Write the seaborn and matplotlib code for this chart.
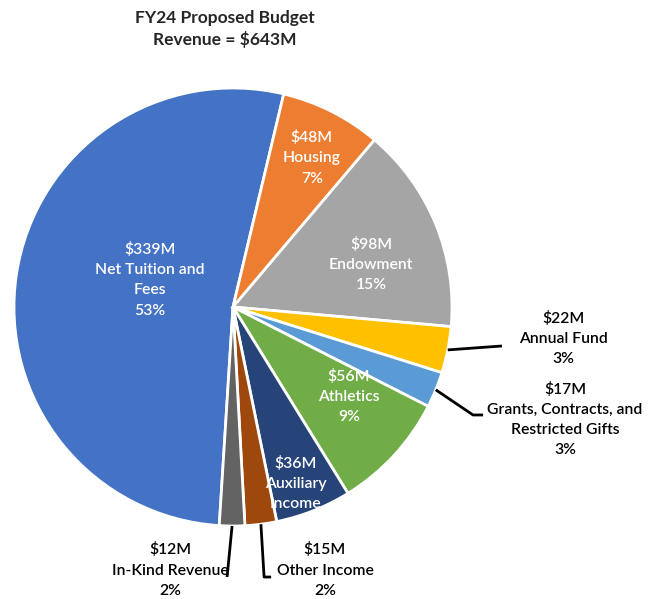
import matplotlib
matplotlib.use("Agg")
import matplotlib.pyplot as plt
import numpy as np
import seaborn as sns

# Revenue categories, in pie order (clockwise from Net Tuition)
categories = ["Net Tuition and\nFees", "Housing", "Endowment", "Annual Fund",
              "Grants, Contracts, and\nRestricted Gifts", "Athletics",
              "Auxiliary\nIncome", "Other Income", "In-Kind Revenue"]
amounts = [339, 48, 98, 22, 17, 56, 36, 15, 12]          # $M
percents = [53, 7, 15, 3, 3, 9, 6, 2, 2]
colors = ["#4472C4", "#ED7D31", "#A5A5A5", "#FFC000", "#5B9BD5",
          "#70AD47", "#264478", "#9E480E", "#636363"]

# inside labels: (radius fraction, angle clockwise from top in degrees)
inside_pos = {0: (0.40, 288), 1: (0.77, 27.9), 2: (0.66, 72.8),
              5: (0.67, 127.8), 6: (0.90, 161.4)}
# outside labels: leader path (after the wedge edge point) and text centre
leaders = {
    3: ([(1.228, -0.178)], (1.507, -0.142)),
    4: ([(1.096, -0.493), (1.142, -0.493)], (1.516, -0.514)),
    7: ([(0.142, -1.233), (0.174, -1.233)], (0.420, -1.201)),
    8: ([(-0.027, -1.233)], (-0.288, -1.201)),
}

sns.set_style("white")
plt.rcParams["font.family"] = ["Lato", "DejaVu Sans"]

fig = plt.figure(figsize=(6.56, 5.99), dpi=100)
ax = fig.add_axes([0, 0, 1, 1])

wedges, _ = ax.pie(amounts, colors=colors, startangle=-93.6, counterclock=False,
                   radius=1.0, wedgeprops=dict(edgecolor="white", linewidth=2))

ax.set_xlim(-233 / 219, (656 - 233) / 219)
ax.set_ylim((307 - 599) / 219, 307 / 219)
ax.set_aspect("equal")
ax.axis("off")

lbl_kw = dict(ha="center", va="center", fontsize=11.3, linespacing=1.55,
              fontweight="semibold")

for i, w in enumerate(wedges):
    mid = np.deg2rad((w.theta1 + w.theta2) / 2)
    label = f"${amounts[i]}M\n{categories[i]}\n{percents[i]}%"
    if i in inside_pos:
        r, a = inside_pos[i]
        a = np.deg2rad(a)
        ax.text(r * np.sin(a), r * np.cos(a), label, color="white", **lbl_kw)
    else:
        path, (tx, ty) = leaders[i]
        pts = [(np.cos(mid), np.sin(mid))] + path
        xs, ys = zip(*pts)
        ax.plot(xs, ys, color="black", linewidth=2, solid_capstyle="butt")
        ax.text(tx, ty, label, color="black", **lbl_kw)

fig.text(225 / 656, 1 - 29 / 599, "FY24 Proposed Budget\nRevenue = $643M",
         ha="center", va="center", fontsize=12.5, fontweight="bold", linespacing=1.35)

fig.savefig("out.png", dpi=100)
